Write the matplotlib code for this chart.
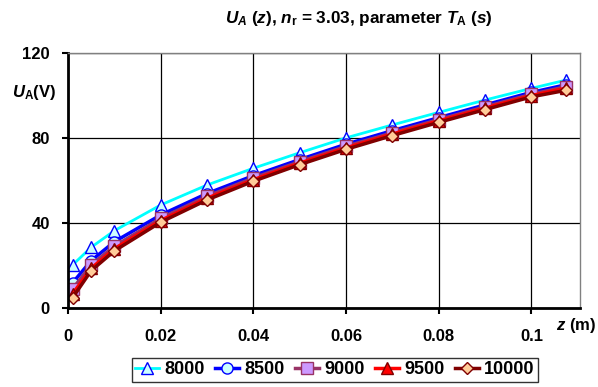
import matplotlib
matplotlib.use('Agg')
import matplotlib.pyplot as plt

plt.rcParams['font.family'] = 'Liberation Sans'
plt.rcParams['font.weight'] = 'bold'
plt.rcParams['mathtext.fontset'] = 'custom'
plt.rcParams['mathtext.rm'] = 'Liberation Sans:bold'
plt.rcParams['mathtext.it'] = 'Liberation Sans:bold:italic'
plt.rcParams['mathtext.bf'] = 'Liberation Sans:bold'

# data
z = [0.001, 0.005, 0.01, 0.02, 0.03, 0.04, 0.05, 0.06, 0.07, 0.08, 0.09, 0.1, 0.1075]
u_8000 = [20.4, 28.7, 36.5, 48.6, 58.0, 65.9, 73.2, 80.2, 86.3, 92.2, 98.0, 103.5, 107.4]
u_8500 = [12.0, 22.4, 31.3, 43.9, 54.0, 62.4, 70.0, 77.2, 83.6, 89.7, 95.7, 101.6, 105.2]
u_9000 = [9.1, 20.4, 29.2, 42.3, 52.7, 61.3, 69.0, 76.2, 82.6, 88.8, 94.8, 100.7, 104.3]
u_9500 = [6.8, 18.8, 28.0, 41.3, 51.8, 60.5, 68.3, 75.5, 82.0, 88.2, 94.2, 100.1, 103.6]
u_10000 = [5.0, 17.7, 27.0, 40.5, 51.0, 59.8, 67.6, 74.8, 81.3, 87.5, 93.5, 99.5, 102.6]
labels = ['8000', '8500', '9000', '9500', '10000']

xticks = [0, 0.02, 0.04, 0.06, 0.08, 0.1]
xticklabels = ['0', '0.02', '0.04', '0.06', '0.08', '0.1']
yticks = [0, 40, 80, 120]

fig = plt.figure(figsize=(5.98, 3.87), dpi=100)
ax = fig.add_axes([0.1137, 0.2034, 0.8563, 0.6589])

ax.plot(z, u_8000, color='#00FFFF', lw=2, marker='^', ms=8, mfc='#CCFFFF', mec='#0000FF', mew=1, label=labels[0])
ax.plot(z, u_8500, color='#0000FF', lw=2.5, marker='o', ms=8, mfc='#CCFFFF', mec='#0000FF', mew=1, label=labels[1])
ax.plot(z, u_9000, color='#993366', lw=2.5, marker='s', ms=8, mfc='#CC99FF', mec='#993366', mew=1, label=labels[2])
ax.plot(z, u_9500, color='#FF0000', lw=2.5, marker='^', ms=8, mfc='#FF0000', mec='#800000', mew=1, label=labels[3])
ax.plot(z, u_10000, color='#800000', lw=2.5, marker='D', ms=6.5, mfc='#FFCC99', mec='#800000', mew=1, label=labels[4])

ax.set_xlim(0, 0.1105)
ax.set_ylim(0, 120)
ax.set_xticks(xticks)
ax.set_xticklabels(xticklabels)
ax.set_yticks(yticks)
ax.tick_params(labelsize=12, length=4, width=1.5, direction='out')
ax.tick_params(axis='y', pad=9)
ax.tick_params(axis='x', pad=11)
ax.grid(True, color='black', lw=0.9)
ax.set_axisbelow(True)
for s in ['left', 'bottom']:
    ax.spines[s].set_linewidth(2)
    ax.spines[s].set_color('black')
for s in ['top', 'right']:
    ax.spines[s].set_linewidth(1)
    ax.spines[s].set_color('#808080')

fig.text(0.6, 0.952, r'$U_A$ $(z)$, $n_\mathrm{r}$ = 3.03, parameter $T_\mathrm{A}$ $(s)$',
         ha='center', va='center', fontsize=12.3)
fig.text(0.057, 0.762, r'$U_\mathrm{A}$(V)', ha='center', va='center', fontsize=12)
fig.text(0.963, 0.16, r'$z$ (m)', ha='center', va='center', fontsize=12)

leg = fig.legend(loc='center', bbox_to_anchor=(0.56, 0.044), ncol=5, fontsize=13,
                 frameon=True, fancybox=False, edgecolor='black', handlelength=1.3,
                 handletextpad=0.3, columnspacing=0.6, borderpad=0.2)
leg.get_frame().set_linewidth(1)

fig.savefig('out.png', dpi=100)
